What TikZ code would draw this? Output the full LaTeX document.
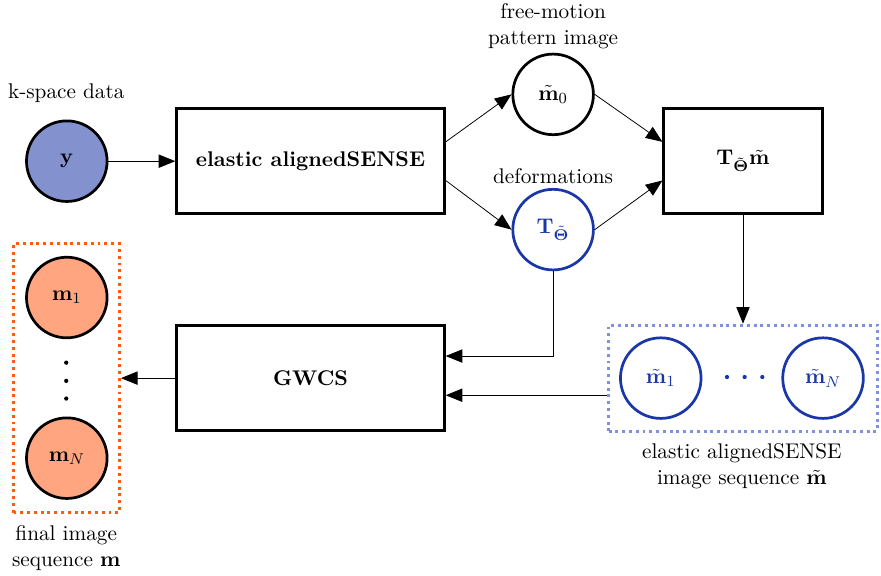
\documentclass[tikz,border=0pt]{standalone}
\usepackage{amsmath}
\usepackage{amssymb}
\usepackage{tikz}
\usetikzlibrary{arrows.meta, positioning, shapes.geometric}
\definecolor{kspaceblue}{RGB}{131,146,207}
\definecolor{deepblue}{RGB}{26,55,168}
\definecolor{dotblue}{RGB}{128,144,224}
\definecolor{salmonfill}{RGB}{255,165,127}
\definecolor{dotorange}{RGB}{255,90,16}

\begin{document}
\fontsize{10.95}{13.6}\selectfont
\begin{tikzpicture}[
 proc/.style={draw, line width=1.4pt, minimum width=4.85cm, minimum height=1.9cm, font=\bfseries},
 var/.style={circle, draw, line width=1.4pt, minimum size=1.46cm, inner sep=0pt},
 seqbox/.style={draw, dotted, line width=1.5pt, minimum width=4.87cm, minimum height=1.92cm},
 arr/.style={-{Triangle[length=3mm, width=2.4mm]}}]
 \useasboundingbox (0,0) rectangle (15.96,10.42);
 % top row
 \node[var, fill=kspaceblue] (y) at (1.21,7.5){$\mathbf{y}$};
 \node at (1.2,8.73){k-space data};
 \node[proc] (elastic) at (5.625,7.5){elastic alignedSENSE};
 \node[var] (m0) at (10.02,8.71){$\tilde{\mathbf{m}}_0$};
 \node[align=center] at (10.02,9.95){free-motion\\pattern image};
 \node[var, draw=deepblue, text=deepblue] (T) at (10.02,6.26){$\mathbf{T}_{\tilde{\boldsymbol{\Theta}}}$};
 \node at (10.02,7.23){deformations};
 \node[proc, minimum width=2.87cm] (Tbox) at (13.46,7.5){$\mathbf{T}_{\tilde{\boldsymbol{\Theta}}}\tilde{\mathbf{m}}$};
 % elastic aligned sequence
 \node[seqbox, draw=dotblue] (seq) at (13.46,3.57){};
 \node[var, draw=deepblue, text=deepblue] (mt1) at (11.97,3.57){$\tilde{\mathbf{m}}_1$};
 \node[var, draw=deepblue, text=deepblue] (mtN) at (14.91,3.57){$\tilde{\mathbf{m}}_N$};
 \foreach \x in {13.17,13.49,13.81} \fill[deepblue] (\x,3.59) circle (1.1pt);
 \node[align=center] at (13.44,1.97){elastic alignedSENSE\\image sequence $\tilde{\mathbf{m}}$};
 % GWCS and final sequence
 \node[proc] (gwcs) at (5.625,3.57){GWCS};
 \node[seqbox, draw=dotorange, minimum width=1.92cm, minimum height=4.87cm] (final) at (1.205,3.57){};
 \node[var, fill=salmonfill] (m1) at (1.21,5.03){$\mathbf{m}_1$};
 \node[var, fill=salmonfill] (mN) at (1.21,2.12){$\mathbf{m}_N$};
 \foreach \yy in {3.85,3.52,3.2} \fill (1.2,\yy) circle (1.1pt);
 \node[align=center] at (1.2,0.49){final image\\sequence $\mathbf{m}$};
 % connectors
 \draw[arr] (y) -- (elastic);
 \draw[arr] ([yshift=0.35cm]elastic.east) -- (m0.west);
 \draw[arr] ([yshift=-0.35cm]elastic.east) -- (T.west);
 \draw[arr] (m0.east) -- ([yshift=0.35cm]Tbox.west);
 \draw[arr] (T.east) -- ([yshift=-0.35cm]Tbox.west);
 \draw[arr] (Tbox.south) -- (seq.north);
 \draw[arr] (T.south) |- ([yshift=0.4cm]gwcs.east);
 \draw[arr] ([yshift=-0.31cm]seq.west) -- ([yshift=-0.31cm]gwcs.east);
 \draw[arr] (gwcs.west) -- (final.east);
\end{tikzpicture}
\end{document}
